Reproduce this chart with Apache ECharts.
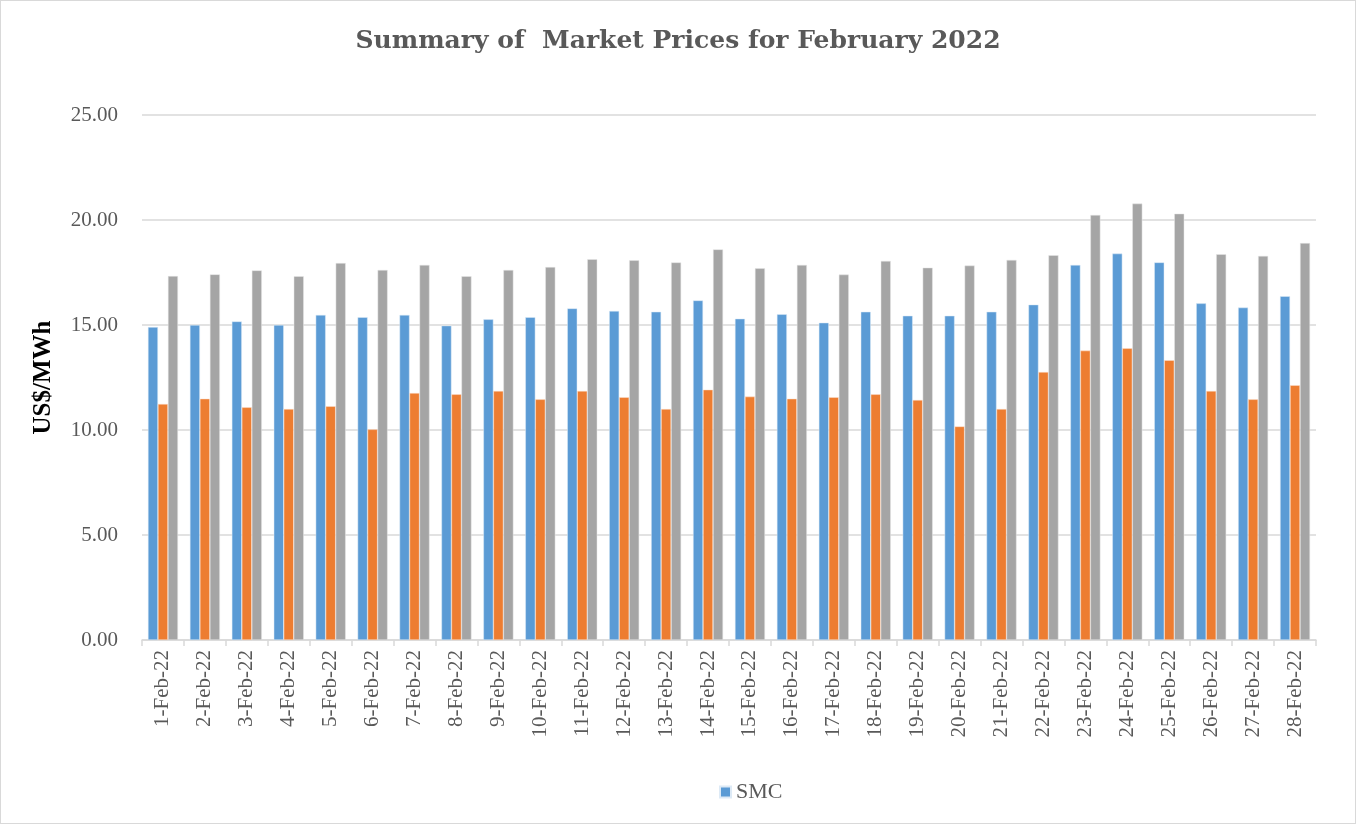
<!DOCTYPE html>
<html>
<head>
<meta charset="utf-8">
<script src="https://cdn.jsdelivr.net/npm/echarts@6/dist/echarts.min.js"></script>
<style>
html,body{margin:0;padding:0;background:#fff;}
#chart{width:1354px;height:822px;border:1px solid #d9d9d9;}
</style>
</head>
<body>
<div id="chart"></div>
<script>
const categories = ['1-Feb-22','2-Feb-22','3-Feb-22','4-Feb-22','5-Feb-22','6-Feb-22','7-Feb-22','8-Feb-22','9-Feb-22','10-Feb-22','11-Feb-22','12-Feb-22','13-Feb-22','14-Feb-22','15-Feb-22','16-Feb-22','17-Feb-22','18-Feb-22','19-Feb-22','20-Feb-22','21-Feb-22','22-Feb-22','23-Feb-22','24-Feb-22','25-Feb-22','26-Feb-22','27-Feb-22','28-Feb-22'];
const smc = [14.90,15.00,15.17,15.00,15.48,15.37,15.48,14.97,15.27,15.37,15.79,15.67,15.63,16.17,15.30,15.51,15.11,15.63,15.44,15.44,15.63,15.97,17.86,18.40,17.98,16.03,15.83,16.37];
const low = [11.24,11.49,11.08,11.00,11.13,10.03,11.76,11.70,11.86,11.46,11.86,11.56,11.00,11.92,11.59,11.49,11.56,11.70,11.43,10.17,11.00,12.76,13.78,13.89,13.32,11.86,11.46,12.13];
const high = [17.33,17.41,17.60,17.32,17.95,17.62,17.86,17.32,17.62,17.76,18.13,18.08,17.98,18.60,17.70,17.86,17.40,18.05,17.73,17.83,18.10,18.32,20.24,20.78,20.30,18.37,18.29,18.90];
const yTicks = {min: 0, max: 25, interval: 5};

const font = '"Liberation Serif", "DejaVu Serif", serif';
const chart = echarts.init(document.getElementById('chart'));
chart.setOption({
  animation: false,
  textStyle: {fontFamily: font},
  title: {
    text: 'Summary of  Market Prices for February 2022',
    left: 'center', top: 23,
    textStyle: {fontFamily: '"DejaVu Serif", serif', fontSize: 25, fontWeight: 'bold', color: '#595959'}
  },
  grid: {left: 141, right: 39, top: 114, bottom: 183, containLabel: false},
  legend: {
    data: ['SMC'],
    left: 713, top: 775,
    itemWidth: 11, itemHeight: 11, icon: 'rect', itemGap: 6,
    textStyle: {fontFamily: font, fontSize: 22, color: '#595959'}
  },
  xAxis: {
    type: 'category',
    data: categories,
    axisLine: {lineStyle: {color: '#d9d9d9', width: 1.5}},
    axisTick: {show: true, length: 6, lineStyle: {color: '#d9d9d9', width: 1.5}},
    axisLabel: {rotate: 90, fontFamily: font, fontSize: 21, color: '#595959', margin: 10, interval: 0}
  },
  yAxis: {
    type: 'value',
    min: yTicks.min, max: yTicks.max, interval: yTicks.interval,
    name: 'US$/MWh', nameLocation: 'middle', nameGap: 86, nameRotate: 90,
    nameTextStyle: {fontFamily: font, fontSize: 25, fontWeight: 'bold', color: '#000'},
    axisLine: {show: false}, axisTick: {show: false},
    axisLabel: {fontFamily: font, fontSize: 21, color: '#595959', margin: 24,
      formatter: v => v.toFixed(2)},
    splitLine: {lineStyle: {color: '#d9d9d9', width: 1.5}}
  },
  series: [
    {name: 'SMC', type: 'bar', data: smc, barGap: '0%', barWidth: 10,
      itemStyle: {color: '#5b9bd5', borderColor: '#ddeaf6', borderWidth: 0.5}},
    {name: 'Lowest', type: 'bar', data: low, barWidth: 10,
      itemStyle: {color: '#ed7d31', borderColor: '#fbe3d3', borderWidth: 0.5}},
    {name: 'Highest', type: 'bar', data: high, barWidth: 10,
      itemStyle: {color: '#a5a5a5', borderColor: '#e6e6e6', borderWidth: 0.5}}
  ]
});
</script>
</body>
</html>
